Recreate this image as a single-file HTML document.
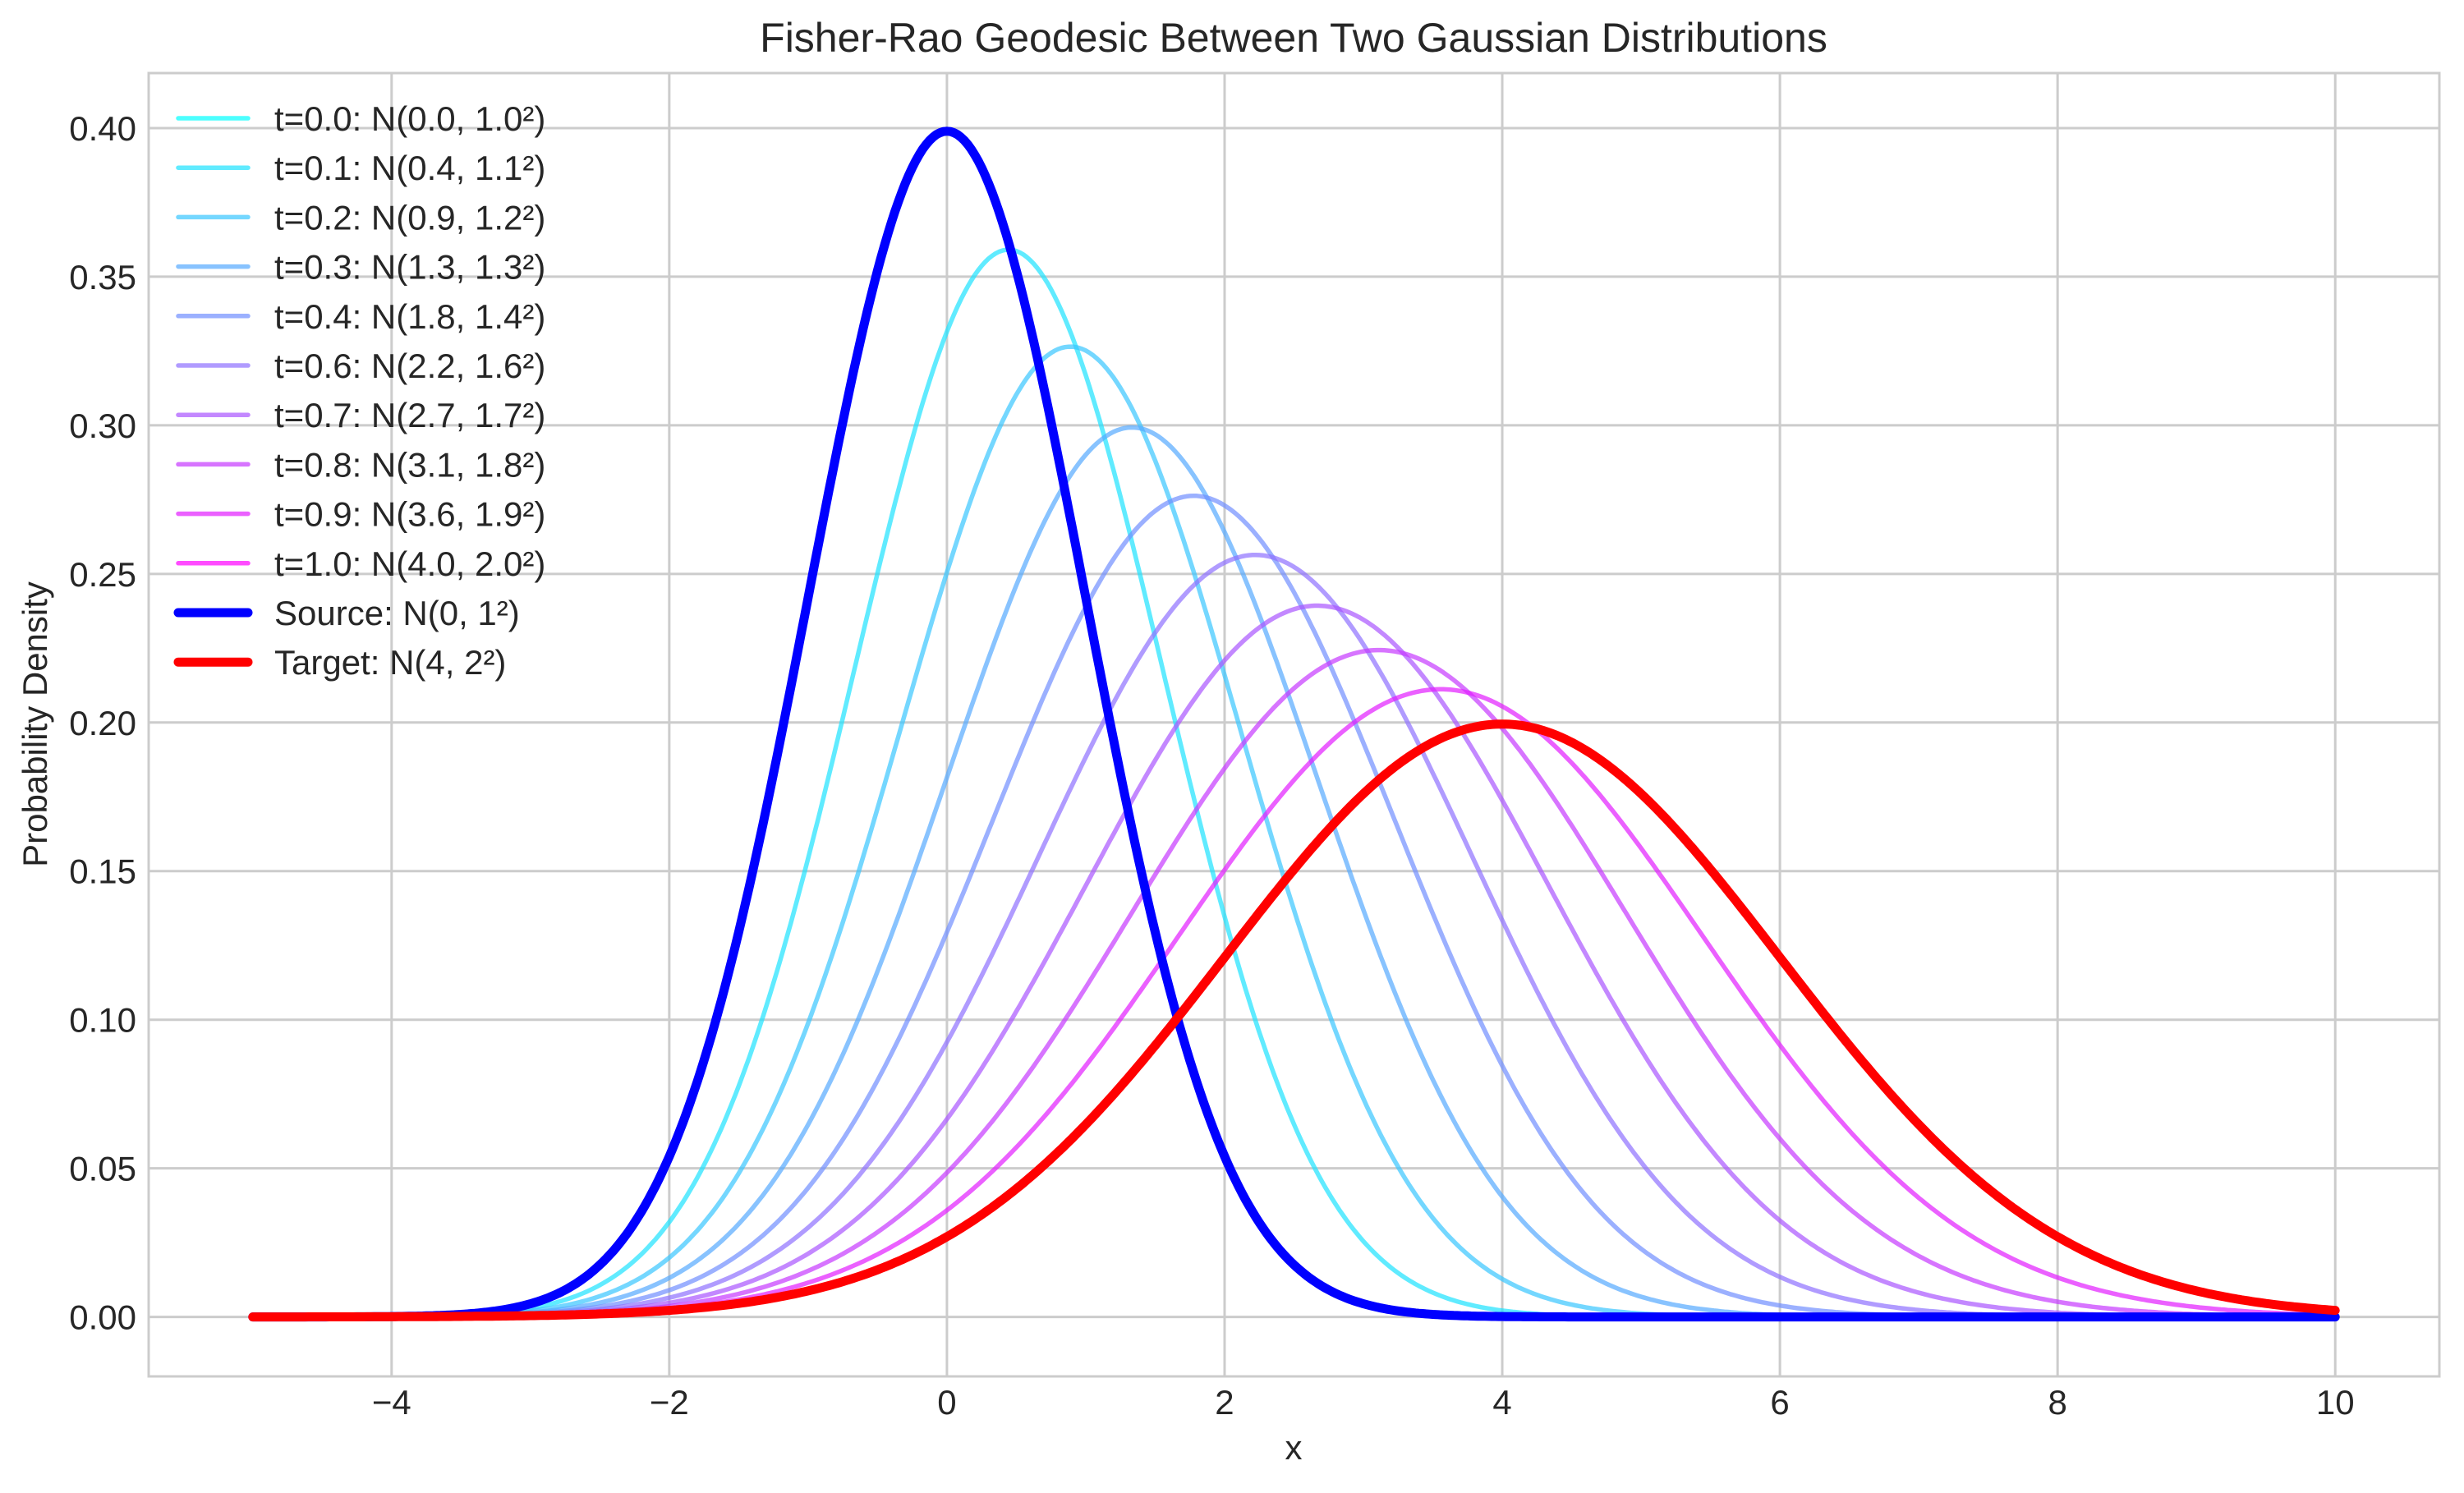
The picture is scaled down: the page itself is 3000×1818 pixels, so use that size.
<!DOCTYPE html>
<html><head><meta charset="utf-8"><style>
html,body{margin:0;padding:0;background:#fff;}
svg text{font-family:"Liberation Sans",Arial,sans-serif;fill:#262626;}
</style></head><body>
<svg id="chart" width="3000" height="1813" xmlns="http://www.w3.org/2000/svg">
<rect x="0" y="0" width="3000" height="1813" fill="#fff"/>
<g id="grid"></g>
<g id="series"></g>
<rect x="181" y="89" width="2789" height="1587" fill="none" stroke="#cccccc" stroke-width="3"/>
<g id="ticks"></g>
<g id="legend"></g>
<text x="1575" y="63" font-size="50" text-anchor="middle">Fisher-Rao Geodesic Between Two Gaussian Distributions</text>
<text x="1575" y="1777" font-size="42" text-anchor="middle">x</text>
<text x="0" y="0" font-size="42" text-anchor="middle" transform="translate(57,882) rotate(-90)">Probability Density</text>
</svg>
<script>
const tValues=[0,0.111,0.222,0.333,0.444,0.556,0.667,0.778,0.889,1.0];
const means=[0,0.444,0.889,1.333,1.778,2.222,2.667,3.111,3.556,4.0];
const sigmas=[1.0,1.111,1.222,1.333,1.444,1.556,1.667,1.778,1.889,2.0];
const labels=["t=0.0: N(0.0, 1.0²)","t=0.1: N(0.4, 1.1²)","t=0.2: N(0.9, 1.2²)","t=0.3: N(1.3, 1.3²)","t=0.4: N(1.8, 1.4²)","t=0.6: N(2.2, 1.6²)","t=0.7: N(2.7, 1.7²)","t=0.8: N(3.1, 1.8²)","t=0.9: N(3.6, 1.9²)","t=1.0: N(4.0, 2.0²)"];
const sourceParams=[0,1];
const targetParams=[4,2];
const xRange=[-5,10];
const xTicks=[-4,-2,0,2,4,6,8,10];
const xTickLabels=["−4","−2","0","2","4","6","8","10"];
const yTicks=[0,0.05,0.10,0.15,0.20,0.25,0.30,0.35,0.40];
const yTickLabels=["0.00","0.05","0.10","0.15","0.20","0.25","0.30","0.35","0.40"];

const L=181,R=2970,T=89,B=1676;
const xMin=-5.75,xMax=10.75,yMin=-0.02,yMax=0.4185;
const X=v=>L+(v-xMin)/(xMax-xMin)*(R-L);
const Y=v=>B-(v-yMin)/(yMax-yMin)*(B-T);
const NS='http://www.w3.org/2000/svg';
function mk(tag,attrs,parent){const e=document.createElementNS(NS,tag);for(const k in attrs)e.setAttribute(k,attrs[k]);parent.appendChild(e);return e;}
const grid=document.getElementById('grid'),ticks=document.getElementById('ticks'),series=document.getElementById('series'),legend=document.getElementById('legend');
xTicks.forEach((v,i)=>{
 const g=mk('line',{x1:X(v),x2:X(v),y1:T,y2:B,stroke:'#cccccc','stroke-width':3},grid);
 
 
 const t=mk('text',{x:X(v),y:1722,'font-size':42,'text-anchor':'middle'},ticks);
 t.textContent=xTickLabels[i];
 
 
});
yTicks.forEach((v,i)=>{
 const g=mk('line',{x1:L,x2:R,y1:Y(v),y2:Y(v),stroke:'#cccccc','stroke-width':3},grid);
 
 
 const t=mk('text',{x:166,y:Y(v)+15,'font-size':42,'text-anchor':'end'},ticks);
 t.textContent=yTickLabels[i];
 
 
});
function pdf(x,m,s){return Math.exp(-0.5*((x-m)/s)**2)/(s*Math.sqrt(2*Math.PI));}
function curve(m,s){let d='';const n=600;for(let i=0;i<=n;i++){const x=xRange[0]+(xRange[1]-xRange[0])*i/n;d+=(i?'L':'M')+X(x).toFixed(1)+','+Y(pdf(x,m,s)).toFixed(1);}return d;}
function col(t){return `rgb(${Math.round(t*255)},${Math.round((1-t)*255)},255)`;}
tValues.forEach((t,i)=>{
 const p=mk('path',{d:curve(means[i],sigmas[i]),fill:'none',stroke:col(i/9),'stroke-opacity':0.7,'stroke-width':5.5,'stroke-linecap':'round','stroke-linejoin':'round'},series);
 
 
});
const src=mk('path',{d:curve(sourceParams[0],sourceParams[1]),fill:'none',stroke:'#0000ff','stroke-width':11,'stroke-linecap':'round','stroke-linejoin':'round'},series);


const tgt=mk('path',{d:curve(targetParams[0],targetParams[1]),fill:'none',stroke:'#ff0000','stroke-width':11,'stroke-linecap':'round','stroke-linejoin':'round'},series);


const entries=labels.map((l,i)=>({l,c:col(i/9),o:0.7,w:5.5})).concat([{l:'Source: N(0, 1²)',c:'#0000ff',o:1,w:11},{l:'Target: N(4, 2²)',c:'#ff0000',o:1,w:11}]);
entries.forEach((e,i)=>{
 const y=144+60.2*i;
 const ln=mk('line',{x1:217,x2:302,y1:y,y2:y,stroke:e.c,'stroke-opacity':e.o,'stroke-width':e.w,'stroke-linecap':'round'},legend);
 
 
 const tx=mk('text',{x:334,y:y+15,'font-size':42},legend);
 tx.textContent=e.l;
 
 
});
</script>
</body></html>
